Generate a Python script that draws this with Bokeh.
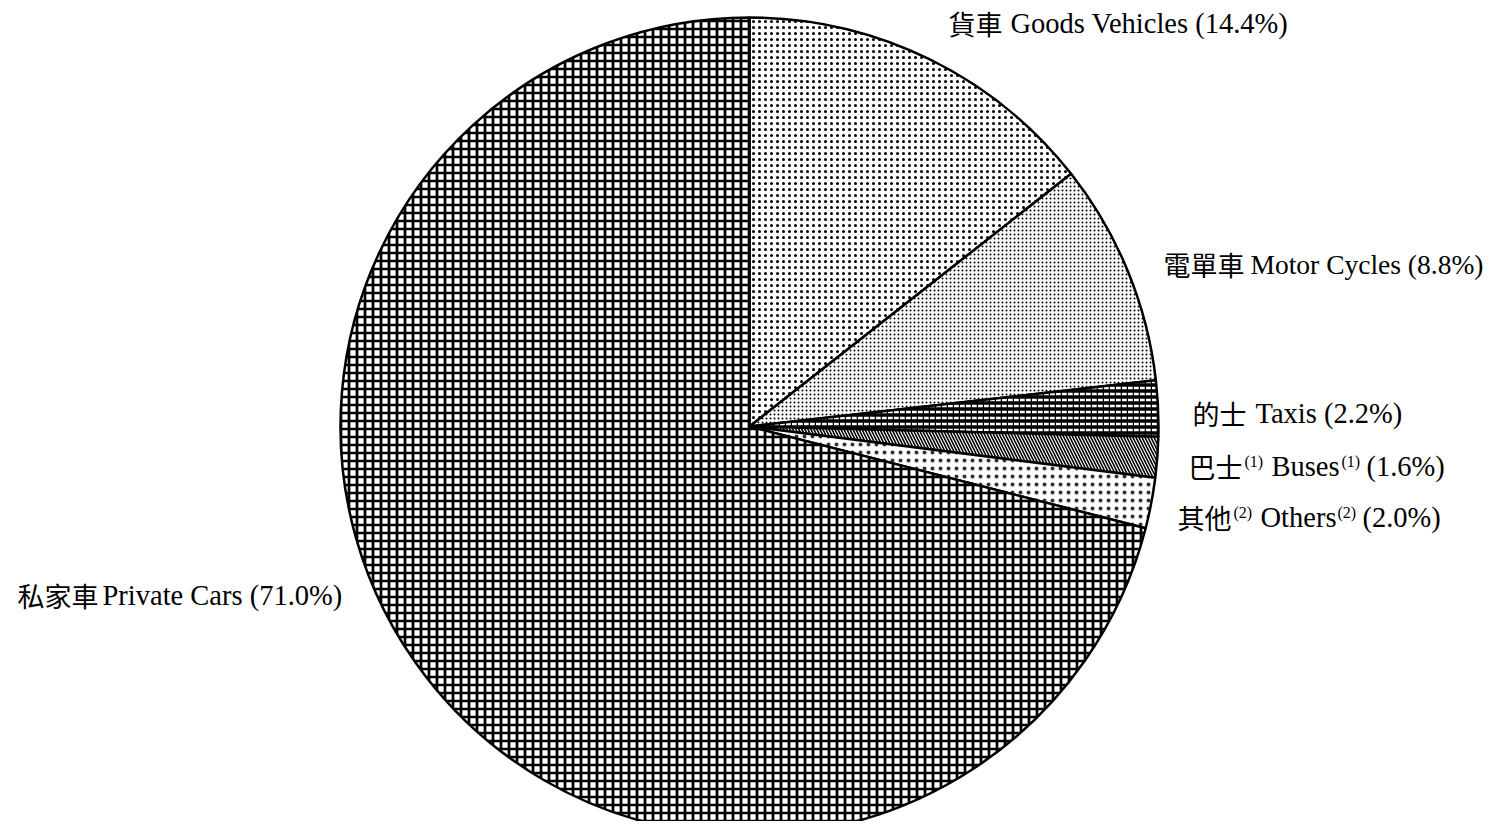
from bokeh.plotting import figure
from bokeh.models import Range1d
from bokeh.core.properties import value
from bokeh.embed import file_html
from bokeh.resources import INLINE
import math

# ---- data ----
categories_zh = ["貨車", "電單車", "的士", "巴士", "其他", "私家車"]
categories_en = ["Goods Vehicles", "Motor Cycles", "Taxis", "Buses", "Others", "Private Cars"]
shares = [14.4, 8.8, 2.2, 1.6, 2.0, 71.0]
notes = ["", "", "", "(1)", "(2)", ""]

W, H = 1483, 821
p = figure(width=W, height=H, x_range=Range1d(0, W), y_range=Range1d(0, H),
           output_backend="svg", toolbar_location=None, min_border=0)
p.axis.visible = False
p.grid.visible = False
p.outline_line_color = None
p.background_fill_color = "white"

def Y(img_y):
    return H - img_y

cx, cy, r = 749, Y(426), 409

styles = [
    dict(fill_color="white", hatch_pattern="dot", hatch_scale=6, hatch_weight=1.8, hatch_color="black"),
    dict(fill_color="white", hatch_pattern="dot", hatch_scale=4, hatch_weight=2, hatch_color="black"),
    dict(fill_color="black", hatch_pattern="horizontal_dash", hatch_scale=6, hatch_weight=2.5, hatch_color="white"),
    dict(fill_color="white", hatch_pattern="left_diagonal_line", hatch_scale=6, hatch_weight=1.6, hatch_color="black"),
    dict(fill_color="white", hatch_pattern="dot", hatch_scale=8, hatch_weight=0.5, hatch_color="#333333"),
    dict(fill_color="white", hatch_pattern="cross", hatch_scale=8, hatch_weight=2.7, hatch_color="black"),
]

total = sum(shares)
start = math.pi / 2
for s, st in zip(shares, styles):
    end = start - 2 * math.pi * s / total
    p.wedge(x=[cx], y=[cy], radius=[r], start_angle=[end], end_angle=[start],
            line_color="black", line_width=2.5, **st)
    start = end

LAT = value("Liberation Serif")
CJK = value("Noto Sans CJK TC")
FS = "28.5px"
FC = "27px"
SUP = "16px"

def txt(x, img_y, t, font, size):
    p.text(x=[x], y=[Y(img_y)], text=[t], text_font=font, text_font_size=size,
           text_baseline="middle", text_align="left", text_color="black")

# Goods Vehicles
txt(948, 23, categories_zh[0], CJK, FC)
txt(1010, 23, f"{categories_en[0]} ({shares[0]:.1f}%)", LAT, FS)
# Motor Cycles
txt(1163, 264, categories_zh[1], CJK, FC)
txt(1250, 264, f"{categories_en[1]} ({shares[1]:.1f}%)", LAT, "27.5px")
# Taxis
txt(1192, 413, categories_zh[2], CJK, FC)
txt(1255, 413, f"{categories_en[2]} ({shares[2]:.1f}%)", LAT, FS)
# Buses
txt(1188, 466, categories_zh[3], CJK, FC)
txt(1244, 461, notes[3], LAT, SUP)
txt(1271, 466, categories_en[3], LAT, FS)
txt(1341, 461, notes[3], LAT, SUP)
txt(1366, 466, f"({shares[3]:.1f}%)", LAT, FS)
# Others
txt(1177, 517, categories_zh[4], CJK, FC)
txt(1233, 512, notes[4], LAT, SUP)
txt(1260, 517, categories_en[4], LAT, FS)
txt(1337, 512, notes[4], LAT, SUP)
txt(1362, 517, f"({shares[4]:.1f}%)", LAT, FS)
# Private Cars
txt(17, 595, categories_zh[5], CJK, FC)
txt(102, 595, f"{categories_en[5]} ({shares[5]:.1f}%)", LAT, FS)

open("out.html", "w").write(file_html(p, INLINE))
